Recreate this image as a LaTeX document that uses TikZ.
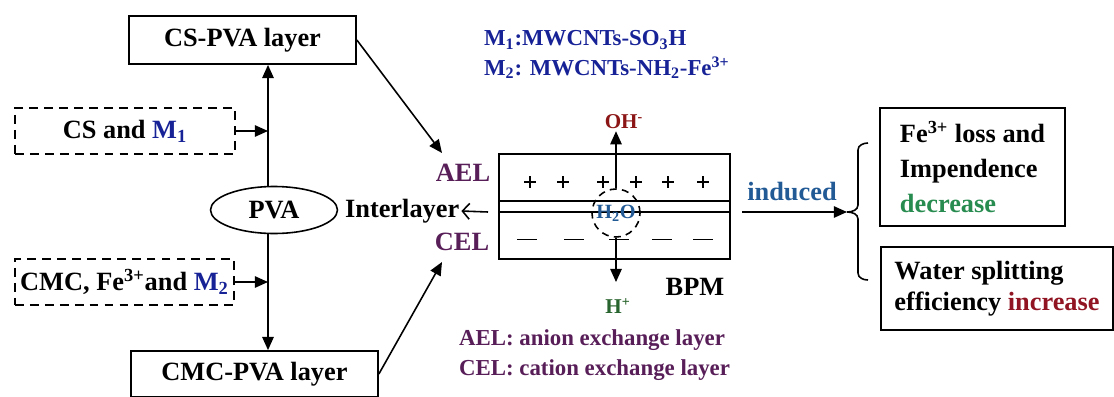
\documentclass[tikz,border=0pt]{standalone}
\usepackage{fontspec}
\setmainfont{Liberation Serif}
\usetikzlibrary{arrows.meta, positioning, shapes.geometric}
\definecolor{aelpurple}{RGB}{88, 30, 88}
\definecolor{noteblue}{RGB}{22, 34, 150}
\definecolor{waterblue}{RGB}{34, 90, 150}
\definecolor{ohred}{RGB}{140, 22, 22}
\definecolor{hgreen}{RGB}{40, 100, 45}
\definecolor{decgreen}{RGB}{40, 140, 80}
\definecolor{incred}{RGB}{145, 20, 35}
\newcommand{\bigtxt}{\bfseries\fontsize{15}{20}\selectfont}
\newcommand{\midtxt}{\bfseries\fontsize{13}{16}\selectfont}
\newcommand{\smalltxt}{\bfseries\fontsize{12}{14}\selectfont}
\tikzset{
  layer/.style     = {rectangle, draw, line width=1pt, minimum height=0.96cm, font=\bigtxt},
  inbox/.style     = {rectangle, draw, line width=0.9pt, dash pattern=on 5pt off 3.5pt, minimum height=0.92cm, inner xsep=2pt, font=\bigtxt},
  result/.style    = {rectangle, draw, line width=1pt, align=left, font=\bigtxt},
  flow/.style      = {-{Triangle[length=7.5pt,width=6.5pt]}, line width=0.9pt},
  barb/.style      = {-{Straight Barb[length=4pt,width=9pt]}, line width=0.9pt},
  tag/.style       = {font=\bigtxt, inner sep=1pt},
  note/.style      = {font=\midtxt, inner sep=1pt},
  ion/.style       = {font=\smalltxt, inner sep=1pt},
  waterring/.style = {circle, draw, dash pattern=on 4pt off 3pt, line width=0.9pt, minimum size=0.96cm, inner sep=0pt},
  charge/.style    = {line width=1.6pt},
}

\begin{document}
\begin{tikzpicture}[x=0.02cm, y=-0.02cm]
  \useasboundingbox (0,0) rectangle (1114,396);

  % left column
  \node[layer, minimum width=4.54cm] (cspva) at (242.5,40) {CS-PVA layer};
  \node[inbox, minimum width=4.4cm] (csm) at (125,131) {CS and \textcolor{noteblue}{M\textsubscript{1}}};
  \node[ellipse, draw, line width=0.9pt, minimum width=2.54cm, minimum height=0.94cm, font=\bigtxt] (pva) at (274,210) {PVA};
  \node[inbox, minimum width=4.38cm] (cmcm) at (124.5,282) {CMC, Fe\textsuperscript{3+}and \textcolor{noteblue}{M\textsubscript{2}}};
  \node[layer, minimum width=4.94cm, minimum height=0.92cm] (cmcpva) at (254.5,374) {CMC-PVA layer};
  \coordinate (spine) at (268,0);
  \draw[flow] (pva.north -| spine) -- (cspva.south -| spine);
  \draw[flow] (pva.south -| spine) -- (cmcpva.north -| spine);
  \draw[flow] (csm.east) -- (csm.east -| spine);
  \draw[flow] (cmcm.east) -- (cmcm.east -| spine);

  % notes
  \node[note, text=noteblue, anchor=west] (mone) at (482,40) {M\textsubscript{1}:MWCNTs-SO\textsubscript{3}H};
  \node[note, text=noteblue, anchor=west] (mtwo) at (482,68) {M\textsubscript{2}: MWCNTs-NH\textsubscript{2}-Fe\textsuperscript{3+}};

  % membrane
  \node[tag, text=aelpurple] (ael) at (463,173) {AEL};
  \node[tag, text=aelpurple] (cel) at (462,242) {CEL};
  \draw[flow] (cspva.east) -- ([shift={(-21,-20)}]ael.center);
  \draw[flow] (cmcpva.east) -- ([shift={(-20,20)}]cel.center);

  \node[draw, line width=1pt, minimum width=4.62cm, minimum height=2.1cm] (bpm) at (614.5,206.5) {};
  \draw[line width=0.9pt] (bpm.west |- 0,201) -- (bpm.east |- 0,201);
  \draw[line width=0.9pt] (bpm.west |- 0,212) -- (bpm.east |- 0,212);
  \foreach \px in {530,563,603,636,668,703}
    \draw[charge] (\px-6,182) -- (\px+6,182) (\px,176) -- (\px,188);
  \foreach \px in {527,574,619,662,703}
    \draw[line width=0.5pt] (\px-10,239) -- (\px+10,239);

  \node[waterring, text=waterblue, font=\bfseries\fontsize{11.5}{13}\selectfont] (water) at (616,213) {H\textsubscript{2}O};
  \node[ion, text=ohred] (oh) at (624,122) {OH\textsuperscript{-}};
  \node[ion, text=hgreen] (hp) at (618,306) {H\textsuperscript{+}};
  \draw[flow] (water.north) -- (water.north |- oh.south);
  \draw[flow, shorten >=8pt] (water.south) -- (water.south |- hp.north);
  \node[tag] (bpmtag) at (695,287) {BPM};

  \node[note, text=aelpurple, anchor=west] (aeldef) at (457,340) {AEL: anion exchange layer};
  \node[note, text=aelpurple, anchor=west] (celdef) at (457,370) {CEL: cation exchange layer};

  % interlayer and results
  \node[tag, anchor=west] (inter) at (343,211) {Interlayer};
  \coordinate (ilft) at (488,212);
  \draw[barb] (ilft) -- (inter.east);

  \coordinate (irgt) at (742,212);
  \coordinate (btip) at (847,212);
  \draw[flow] (irgt) -- (btip);
  \node[tag, text=waterblue] (induced) at (792,192) {induced};
  \draw[line width=0.9pt] (868,143) to[out=180,in=90] (858,150) -- (858,205)
    to[out=-90,in=0] (btip) to[out=0,in=90] (858,219) -- (858,273) to[out=-90,in=180] (868,280);

  \node[result, minimum width=3.7cm, minimum height=2.36cm] (loss) at (972.5,167)
    {Fe\textsuperscript{3+} loss and\\Impendence\\\textcolor{decgreen}{decrease}};
  \node[result, minimum width=4.64cm, minimum height=1.66cm, font=\bfseries\fontsize{15}{17.5}\selectfont] (split) at (997,288.5)
    {Water splitting\\efficiency \textcolor{incred}{increase}};
\end{tikzpicture}
\end{document}
